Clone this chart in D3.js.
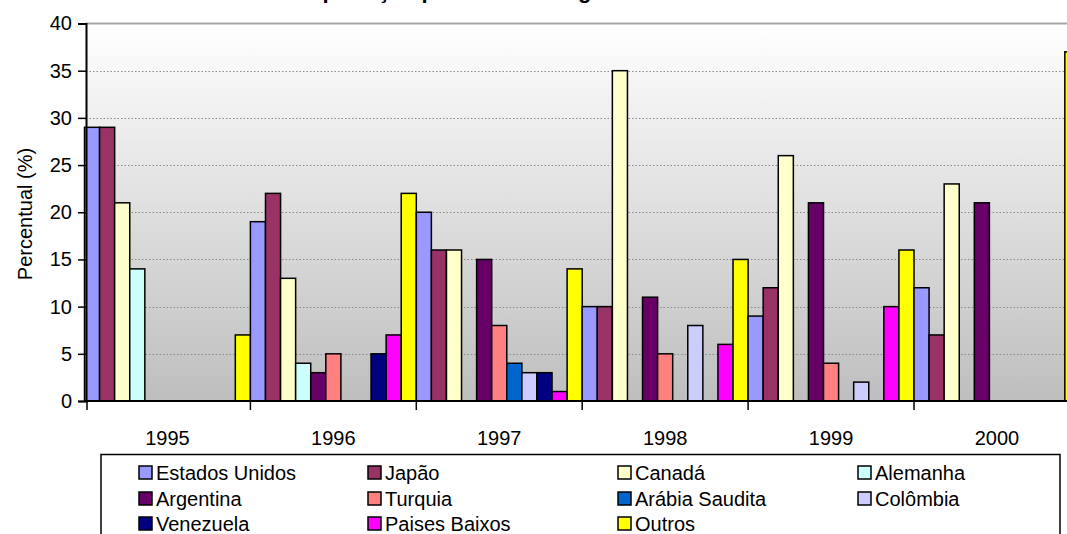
<!DOCTYPE html>
<html>
<head>
<meta charset="utf-8">
<script src="https://cdn.jsdelivr.net/npm/d3@7/dist/d3.min.js"></script>
<style>
  html, body { margin: 0; padding: 0; background: #fff; }
  svg { display: block; font-family: Arial, "Liberation Sans", sans-serif; }
</style>
</head>
<body>
<svg id="chart" width="1067" height="534"></svg>
<script>
// Anos (categorias do eixo X)
const years = ["1995", "1996", "1997", "1998", "1999", "2000"];

// Participação percentual de cada país, por ano
const estadosUnidos = [29, 19, 20, 10, 9, 12];
const japao         = [29, 22, 16, 10, 12, 7];
const canada        = [21, 13, 16, 35, 26, 23];
const alemanha      = [14, 4, 0, 0, 0, 0];
const argentina     = [0, 3, 15, 11, 21, 21];
const turquia       = [0, 5, 8, 5, 4, 0];
const arabiaSaudita = [0, 0, 4, 0, 0, 0];
const colombia      = [0, 0, 3, 8, 2, 0];
const venezuela     = [0, 5, 3, 0, 0, 0];
const paisesBaixos  = [0, 7, 1, 6, 10, 0];
const outros        = [7, 22, 14, 15, 16, 37];

const seriesNames = ["Estados Unidos", "Japão", "Canadá", "Alemanha", "Argentina", "Turquia",
                     "Arábia Saudita", "Colômbia", "Venezuela", "Paises Baixos", "Outros"];
const seriesValues = [estadosUnidos, japao, canada, alemanha, argentina, turquia,
                      arabiaSaudita, colombia, venezuela, paisesBaixos, outros];
const seriesColors = ["#9999FF", "#993366", "#FFFFCC", "#CCFFFF", "#660066", "#FF8080",
                      "#0066CC", "#CCCCFF", "#000080", "#FF00FF", "#FFFF00"];

const yTicks = [0, 5, 10, 15, 20, 25, 30, 35, 40];

const svg = d3.select("#chart");
const W = 1067, H = 534;

// Área de plotagem (continua além da borda direita)
const plotLeft = 84.5, groupStep = 165.9;
const plotRight = plotLeft + groupStep * years.length;
const plotTop = 23.5, plotBottom = 401;

const x = d3.scaleBand().domain(years).range([plotLeft, plotRight]).paddingInner(0).paddingOuter(0);
const xs = d3.scaleBand().domain(d3.range(seriesNames.length)).range([0, x.bandwidth()]).padding(0);
const y = d3.scaleLinear().domain([0, 40]).range([plotBottom, plotTop]);

// Fundo em degradê
const defs = svg.append("defs");
const grad = defs.append("linearGradient").attr("id", "bg").attr("x1", 0).attr("y1", 0).attr("x2", 0).attr("y2", 1);
grad.append("stop").attr("offset", "0%").attr("stop-color", "#ffffff");
grad.append("stop").attr("offset", "100%").attr("stop-color", "#bebebe");

svg.append("rect")
  .attr("x", 86).attr("y", y(40))
  .attr("width", plotRight - 86).attr("height", y(0) - y(40))
  .attr("fill", "url(#bg)");

// Linhas de grade
svg.append("g").selectAll("line")
  .data(yTicks.filter(d => d > 0 && d < 40))
  .join("line")
  .attr("x1", 86).attr("x2", W)
  .attr("y1", d => Math.round(y(d)) + 0.5).attr("y2", d => Math.round(y(d)) + 0.5)
  .attr("stroke", "#8a8a8a").attr("stroke-width", 1).attr("stroke-dasharray", "1.5,2");

svg.append("line")
  .attr("x1", 86).attr("x2", W)
  .attr("y1", y(40)).attr("y2", y(40))
  .attr("stroke", "#a6a6a6").attr("stroke-width", 2);

// Barras agrupadas
const groups = svg.append("g").selectAll("g")
  .data(years)
  .join("g")
  .attr("transform", d => `translate(${x(d)},0)`);

groups.selectAll("rect")
  .data((yr, yi) => seriesValues.map((vals, si) => ({ si, v: vals[yi] })).filter(d => d.v > 0))
  .join("rect")
  .attr("x", d => xs(d.si))
  .attr("width", xs.bandwidth())
  .attr("y", d => y(d.v))
  .attr("height", d => y(0) - y(d.v))
  .attr("fill", d => seriesColors[d.si])
  .attr("stroke", "#000")
  .attr("stroke-width", 1.5);

// Eixo Y
const yAxis = d3.axisLeft(y).tickValues(yTicks).tickSize(8).tickPadding(6).tickFormat(d3.format("d"));
const gy = svg.append("g").attr("transform", "translate(86,0)").call(yAxis);
gy.select(".domain").attr("stroke", "#000").attr("stroke-width", 2);
gy.selectAll(".tick line").attr("stroke", "#000").attr("stroke-width", 1.5);
gy.selectAll(".tick text").attr("font-size", 20).attr("fill", "#000")
  .attr("font-family", "Arial, 'Liberation Sans', sans-serif");

// Eixo X: marcas nas divisões entre os anos
svg.append("line")
  .attr("x1", 86).attr("x2", W)
  .attr("y1", plotBottom).attr("y2", plotBottom)
  .attr("stroke", "#000").attr("stroke-width", 2);

svg.append("g").selectAll("line")
  .data(years.map(d => x(d)).concat([plotRight]))
  .join("line")
  .attr("x1", d => Math.max(d, 87)).attr("x2", d => Math.max(d, 87))
  .attr("y1", plotBottom).attr("y2", plotBottom + 9)
  .attr("stroke", "#000").attr("stroke-width", 1.5);

svg.append("g").selectAll("text")
  .data(years)
  .join("text")
  .attr("x", d => x(d) + x.bandwidth() / 2)
  .attr("y", 445)
  .attr("text-anchor", "middle")
  .attr("font-size", 20)
  .text(d => d);

// Título do eixo Y
svg.append("text")
  .attr("transform", "translate(32,214) rotate(-90)")
  .attr("text-anchor", "middle")
  .attr("font-size", 20)
  .text("Percentual (%)");

// Título (acima da área visível; só as hastes inferiores aparecem)
svg.append("text")
  .attr("x", 460).attr("y", -2)
  .attr("text-anchor", "middle")
  .attr("font-size", 22)
  .attr("font-weight", "bold")
  .text("Importação por País de Origem");

// Legenda
const legend = svg.append("g");
legend.append("rect")
  .attr("x", 101).attr("y", 454.5)
  .attr("width", 959).attr("height", 120)
  .attr("fill", "#fff").attr("stroke", "#000").attr("stroke-width", 1.5);

const colX = [139, 368, 618, 858];
const rowY = [480, 506, 531];
const items = legend.selectAll("g.item")
  .data(seriesNames.map((n, i) => ({ n, i })))
  .join("g")
  .attr("class", "item")
  .attr("transform", d => `translate(${colX[d.i % 4]},${rowY[Math.floor(d.i / 4)]})`);

items.append("rect")
  .attr("x", 0).attr("y", -14)
  .attr("width", 13).attr("height", 13)
  .attr("fill", d => seriesColors[d.i])
  .attr("stroke", "#000").attr("stroke-width", 1.5);

items.append("text")
  .attr("x", 17).attr("y", 0)
  .attr("font-size", 20)
  .text(d => d.n);
</script>
</body>
</html>
